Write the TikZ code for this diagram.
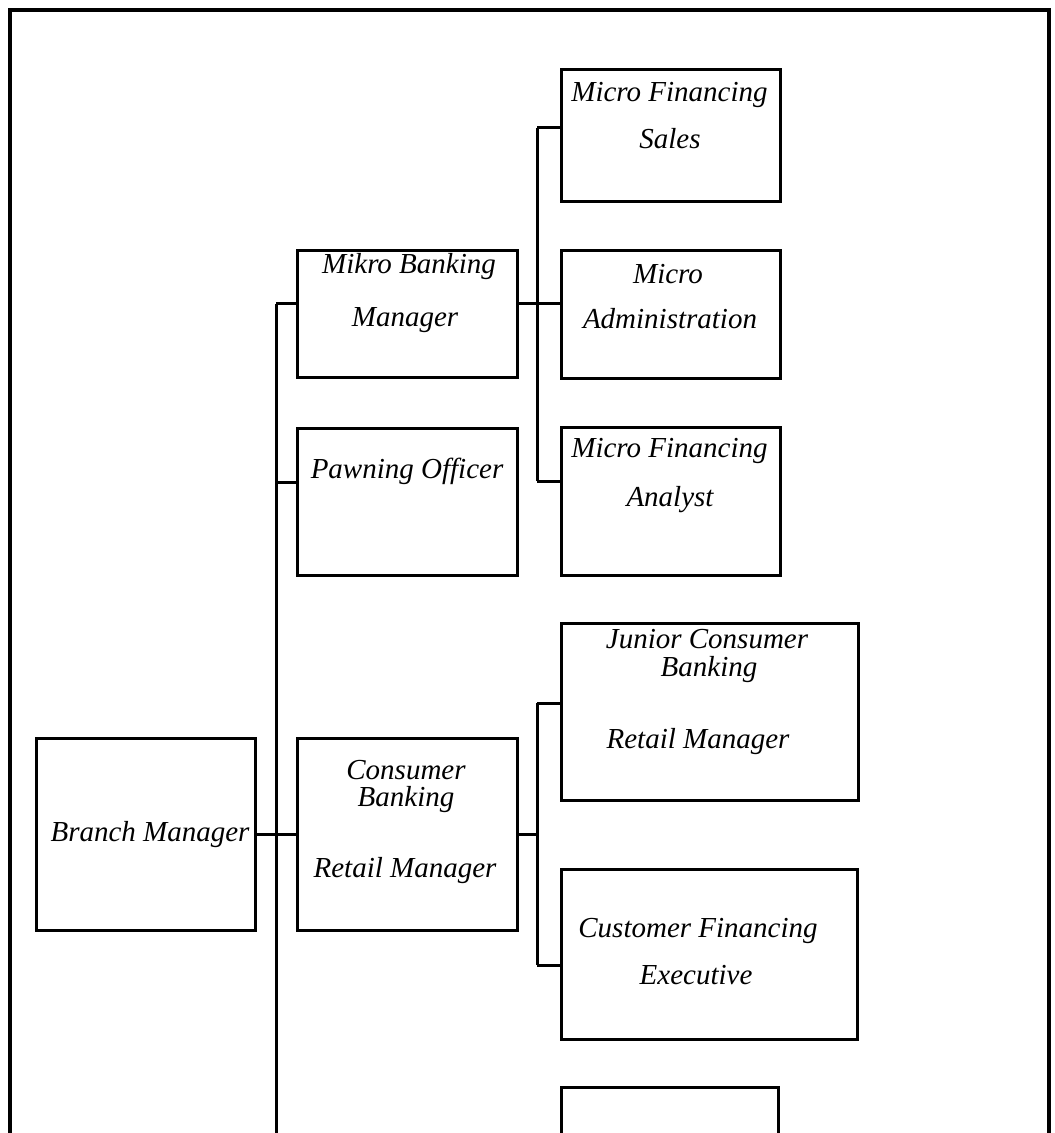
\documentclass[tikz,border=0pt]{standalone}
\usepackage{fontspec}
\setmainfont{Liberation Serif}
\begin{document}
\begin{tikzpicture}[x=0.5pt,y=-0.5pt,
  box/.style={draw=black,line width=1.5pt,rectangle,inner sep=0pt},
  txt/.style={anchor=base,inner sep=0pt,font=\fontsize{14.5pt}{17pt}\selectfont\itshape},
  conn/.style={draw=black,line width=1.5pt}]
\useasboundingbox (0,0) rectangle (1054,1133);
% outer frame (open at the bottom)
\draw[line width=1.7pt] (10,1140) -- (10,10) -- (1049,10) -- (1049,1140);
% boxes
\node[box,minimum width=109.5pt,minimum height=96pt] (branch) at (146,834) {};
\node[box,minimum width=110pt,minimum height=63.5pt] (mikro) at (407,314.5) {};
\node[box,minimum width=110pt,minimum height=73.5pt] (pawn) at (407,501.5) {};
\node[box,minimum width=110pt,minimum height=96pt] (consumer) at (407,834) {};
\node[box,minimum width=109.5pt,minimum height=66pt] (mfsales) at (670.5,136) {};
\node[box,minimum width=109.5pt,minimum height=64pt] (madmin) at (670.5,315) {};
\node[box,minimum width=109.5pt,minimum height=74pt] (manalyst) at (670.5,501) {};
\node[box,minimum width=148.5pt,minimum height=88.5pt] (junior) at (709.5,711.5) {};
\node[box,minimum width=148pt,minimum height=85pt] (custfin) at (709,954) {};
% texts
\node[txt] (tbranch) at (150,841) {Branch Manager};
\node[txt] (tmikro1) at (409,274) {Mikro Banking};
\node[txt] (tmikro2) at (405,327) {Manager};
\node[txt] (tpawn) at (407,478) {Pawning Officer};
\node[txt] (tcons1) at (406,779) {Consumer};
\node[txt] (tcons2) at (406,806) {Banking};
\node[txt] (tcons3) at (405,877) {Retail Manager};
\node[txt] (tsales1) at (669.5,102) {Micro Financing};
\node[txt] (tsales2) at (670,149) {Sales};
\node[txt] (tadmin1) at (668,284) {Micro};
\node[txt] (tadmin2) at (670,329) {Administration};
\node[txt] (tanal1) at (669.5,458) {Micro Financing};
\node[txt] (tanal2) at (670,506) {Analyst};
\node[txt] (tjun1) at (707,648) {Junior Consumer};
\node[txt] (tjun2) at (709,676) {Banking};
\node[txt] (tjun3) at (698,748) {Retail Manager};
\node[txt] (tcust1) at (698,937) {Customer Financing};
\node[txt] (tcust2) at (696,984) {Executive};
% main trunk
\coordinate (tA) at (276,304);
\coordinate (tB) at (276,482);
\coordinate (tC) at (276,834);
\coordinate (tEnd) at (276,1140);
\draw[conn] (tA) -- (tEnd);
\draw[conn] (tA) -- (tA -| mikro.west);
\draw[conn] (tB) -- (tB -| pawn.west);
\draw[conn] (branch.east) -- (consumer.west);
% sub trunk 1
\coordinate (sA) at (537,128);
\coordinate (sB) at (537,304);
\coordinate (sC) at (537,481);
\draw[conn] (sA) -- (sC);
\draw[conn] (sA) -- (sA -| mfsales.west);
\draw[conn] (sB -| mikro.east) -- (sB -| madmin.west);
\draw[conn] (sC) -- (sC -| manalyst.west);
% sub trunk 2
\coordinate (uA) at (537,703);
\coordinate (uB) at (537,834);
\coordinate (uC) at (537,965);
\draw[conn] (uA) -- (uC);
\draw[conn] (uA) -- (uA -| junior.west);
\draw[conn] (consumer.east) -- (uB);
\draw[conn] (uC) -- (uC -| custfin.west);
% bottom box (cut off)
\draw[line width=1.5pt] (561,1140) -- (561,1087) -- (778,1087) -- (778,1140);
\end{tikzpicture}
\end{document}
